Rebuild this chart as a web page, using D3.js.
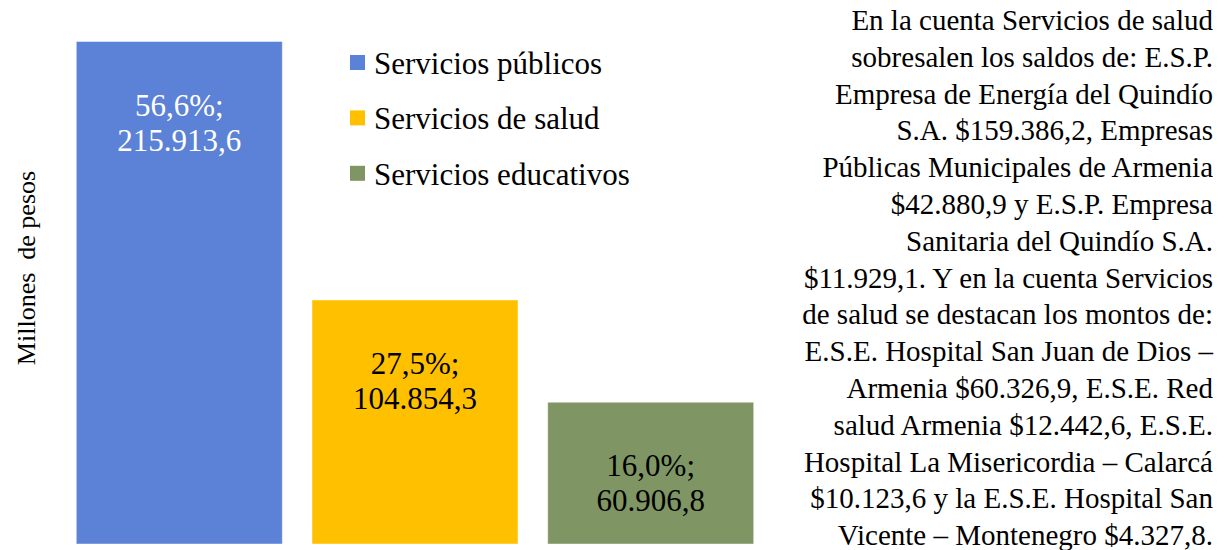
<!DOCTYPE html>
<html>
<head>
<meta charset="utf-8">
<script src="https://cdn.jsdelivr.net/npm/d3@7"></script>
<style>
  html, body { margin: 0; padding: 0; background: #ffffff; }
  svg { display: block; }
  text { font-family: "Liberation Serif", "Times New Roman", serif; }
</style>
</head>
<body>
<svg id="chart" width="1229" height="550"></svg>
<script>
const categories = ["Servicios públicos", "Servicios de salud", "Servicios educativos"];
const values = [215913.6, 104854.3, 60906.8];
const colors = ["#5b82d6", "#ffc000", "#7f9664"];
const labelColors = ["#ffffff", "#000000", "#000000"];
const yTitle = "Millones  de pesos";
const noteLines = [
  "En la cuenta Servicios de salud",
  "sobresalen los saldos de: E.S.P.",
  "Empresa de Energía del Quindío",
  "S.A. $159.386,2, Empresas",
  "Públicas Municipales de Armenia",
  "$42.880,9 y E.S.P. Empresa",
  "Sanitaria del Quindío S.A.",
  "$11.929,1. Y en la cuenta Servicios",
  "de salud se destacan los montos de:",
  "E.S.E. Hospital San Juan de Dios –",
  "Armenia $60.326,9, E.S.E. Red",
  "salud Armenia $12.442,6, E.S.E.",
  "Hospital La Misericordia – Calarcá",
  "$10.123,6 y la E.S.E. Hospital San",
  "Vicente – Montenegro $4.327,8."
];

const locale = d3.formatLocale({decimal: ",", thousands: ".", grouping: [3], currency: ["$", ""]});
const fmtVal = locale.format(",.1f");
const fmtPct = locale.format(".1%");
const total = d3.sum(values);

const svg = d3.select("#chart");

const x = d3.scaleBand().domain(categories).range([76.3, 753.7]).paddingInner(0.126).paddingOuter(0);
const y = d3.scaleLinear().domain([0, 220000]).range([544, 32]);

const data = categories.map((c, i) => ({c, v: values[i], i}));

svg.append("g").selectAll("rect").data(data).join("rect")
  .attr("x", d => x(d.c))
  .attr("y", d => y(d.v))
  .attr("width", x.bandwidth())
  .attr("height", d => y(0) - y(d.v))
  .attr("fill", d => colors[d.i])
  .attr("stroke", "#ffffff")
  .attr("stroke-opacity", 0.45)
  .attr("stroke-width", 1);

const lab = svg.append("g").selectAll("text").data(data).join("text")
  .attr("text-anchor", "middle")
  .attr("fill", d => labelColors[d.i])
  .style("font-size", "31px");
lab.append("tspan")
  .attr("x", d => x(d.c) + x.bandwidth() / 2)
  .attr("y", d => y(d.v) + 74)
  .text(d => fmtPct(d.v / total) + ";");
lab.append("tspan")
  .attr("x", d => x(d.c) + x.bandwidth() / 2)
  .attr("y", d => y(d.v) + 109)
  .text(d => fmtVal(d.v));

// y title
svg.append("text")
  .attr("transform", "translate(35,268) rotate(-90)")
  .attr("text-anchor", "middle")
  .style("font-size", "26px")
  .style("white-space", "pre")
  .attr("xml:space", "preserve")
  .text(yTitle);

// legend
const leg = svg.append("g").attr("transform", "translate(350,55)");
const li = leg.selectAll("g").data(data).join("g")
  .attr("transform", (d, i) => `translate(0,${i * 55.4})`);
li.append("rect").attr("width", 15).attr("height", 15).attr("fill", d => colors[d.i]);
li.append("text").attr("x", 24).attr("y", 8).attr("dy", "0.35em")
  .style("font-size", "31px").text(d => d.c);

// note text
svg.append("g").selectAll("text").data(noteLines).join("text")
  .attr("x", 1213)
  .attr("y", (d, i) => 30 + i * 36.8)
  .attr("text-anchor", "end")
  .style("font-size", "29px")
  .text(d => d);
</script>
</body>
</html>
